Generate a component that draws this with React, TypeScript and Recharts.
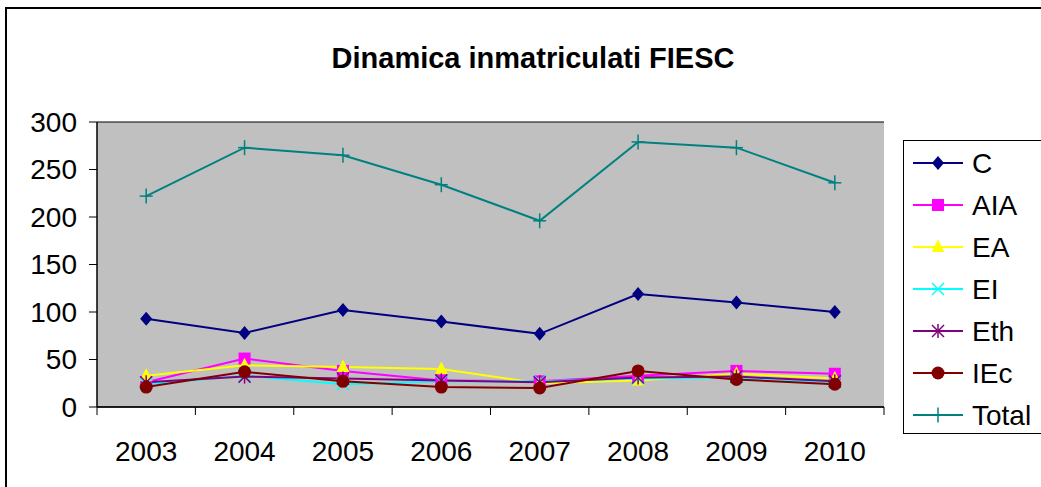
import React from 'react';
import { LineChart, Line, XAxis, YAxis, CartesianGrid } from 'recharts';

const years = ['2003', '2004', '2005', '2006', '2007', '2008', '2009', '2010'];
const C = [93, 78, 102, 90, 77, 119, 110, 100];
const AIA = [26, 51, 38, 28, 27, 33, 38, 35];
const EA = [33, 44, 42, 40, 25, 28, 35, 30];
const EI = [24, 33, 24, 27, 27, 30, 31, 26];
const Eth = [26, 32, 30, 28, 26, 31, 32, 27];
const IEc = [21, 37, 27, 21, 20, 38, 29, 24];
const Total = [222, 273, 265, 234, 196, 279, 273, 236];
const yTicks = [0, 50, 100, 150, 200, 250, 300];

const data = years.map((y, i) => ({
  year: y, C: C[i], AIA: AIA[i], EA: EA[i], EI: EI[i], Eth: Eth[i], IEc: IEc[i], Total: Total[i],
}));

const FONT = '"Liberation Sans", Arial, sans-serif';

type Shape = 'diamond' | 'square' | 'triangle' | 'x' | 'star' | 'circle' | 'plus';

const series: { key: string; color: string; shape: Shape; width: number }[] = [
  { key: 'C', color: '#000080', shape: 'diamond', width: 2 },
  { key: 'AIA', color: '#FF00FF', shape: 'square', width: 2 },
  { key: 'EA', color: '#FFFF00', shape: 'triangle', width: 2 },
  { key: 'EI', color: '#00FFFF', shape: 'x', width: 2 },
  { key: 'Eth', color: '#800080', shape: 'star', width: 2 },
  { key: 'IEc', color: '#800000', shape: 'circle', width: 2 },
  { key: 'Total', color: '#008080', shape: 'plus', width: 2 },
];

function Marker({ cx, cy, shape, color }: { cx: number; cy: number; shape: Shape; color: string }) {
  switch (shape) {
    case 'diamond':
      return <path d={`M${cx},${cy - 7} L${cx + 6},${cy} L${cx},${cy + 7} L${cx - 6},${cy} Z`} fill={color} />;
    case 'square':
      return <rect x={cx - 6} y={cy - 6} width={12} height={12} fill={color} />;
    case 'triangle':
      return <path d={`M${cx},${cy - 7.5} L${cx + 6.5},${cy + 5} L${cx - 6.5},${cy + 5} Z`} fill={color} />;
    case 'x':
      return (
        <g stroke={color} strokeWidth={1.5}>
          <line x1={cx - 6} y1={cy - 6} x2={cx + 6} y2={cy + 6} />
          <line x1={cx - 6} y1={cy + 6} x2={cx + 6} y2={cy - 6} />
        </g>
      );
    case 'star':
      return (
        <g stroke={color} strokeWidth={1.5}>
          <line x1={cx - 6} y1={cy - 6} x2={cx + 6} y2={cy + 6} />
          <line x1={cx - 6} y1={cy + 6} x2={cx + 6} y2={cy - 6} />
          <line x1={cx} y1={cy - 7} x2={cx} y2={cy + 7} />
        </g>
      );
    case 'circle':
      return <circle cx={cx} cy={cy} r={6.5} fill={color} />;
    case 'plus':
    default:
      return (
        <g stroke={color} strokeWidth={1.5}>
          <line x1={cx - 6.5} y1={cy} x2={cx + 6.5} y2={cy} />
          <line x1={cx} y1={cy - 7.5} x2={cx} y2={cy + 7.5} />
        </g>
      );
  }
}

const makeDot = (shape: Shape, color: string) => (props: any) => {
  const { cx, cy, index } = props;
  if (cx == null || cy == null) return <g key={`d-${index}`} />;
  return (
    <g key={`d-${shape}-${index}`}>
      <Marker cx={cx} cy={cy} shape={shape} color={color} />
    </g>
  );
};

const HALF_BAND = 787 / 16;

const XTick = (props: any) => {
  const { x, y, payload, index } = props;
  const axisY = y - 10;
  return (
    <g>
      <line x1={x - HALF_BAND} y1={axisY} x2={x - HALF_BAND} y2={axisY + 8} stroke="#000" strokeWidth={1} />
      {index === years.length - 1 && (
        <line x1={x + HALF_BAND} y1={axisY} x2={x + HALF_BAND} y2={axisY + 8} stroke="#000" strokeWidth={1} />
      )}
      <text x={x} y={axisY + 54} textAnchor="middle" fontSize={28} fontFamily={FONT} fill="#000">
        {payload.value}
      </text>
    </g>
  );
};

const LegendBox = () => (
  <svg width={140} height={294} style={{ display: 'block', fontFamily: FONT }}>
    <rect x={0.5} y={0.5} width={145} height={293} fill="#fff" stroke="#000" strokeWidth={1} />
    {series.map((s, i) => {
      const cy = 23 + i * 42;
      return (
        <g key={s.key}>
          <line x1={10} y1={cy} x2={60} y2={cy} stroke={s.color} strokeWidth={2} />
          <Marker cx={35} cy={cy} shape={s.shape} color={s.color} />
          <text x={69} y={cy + 10} fontSize={28} fill="#000" fontFamily={FONT}>{s.key}</text>
        </g>
      );
    })}
  </svg>
);

export default function App() {
  return (
    <div style={{ position: 'absolute', left: 0, top: 0, width: 1041, height: 487, background: '#fff', overflow: 'hidden' }}>
      <div style={{ position: 'absolute', left: 5, top: 7, width: 1060, height: 520, border: '2px solid #000', boxSizing: 'border-box' }} />
      <div style={{ position: 'absolute', left: 0, top: 42, width: 1066, textAlign: 'center', fontFamily: FONT, fontWeight: 'bold', fontSize: 29, color: '#000' }}>
        Dinamica inmatriculati FIESC
      </div>
      <div style={{ position: 'absolute', left: 0, top: 0 }}>
        <LineChart width={1041} height={487} data={data} margin={{ top: 122, right: 157, bottom: 20, left: 0 }}>
          <CartesianGrid vertical={false} fill="#C0C0C0" stroke="#000" strokeOpacity={1} />
          <XAxis
            dataKey="year"
            height={60}
            padding={{ left: HALF_BAND, right: HALF_BAND }}
            axisLine={{ stroke: '#000', strokeWidth: 1.5 }}
            tickLine={false}
            tickSize={8}
            tickMargin={2}
            tick={<XTick />}
            interval={0}
          />
          <YAxis
            yAxisId="left"
            width={97}
            domain={[0, 300]}
            ticks={yTicks}
            interval={0}
            axisLine={{ stroke: '#000', strokeWidth: 1.5 }}
            tickLine={{ stroke: '#000' }}
            tickSize={8}
            tickMargin={12}
            tick={{ fontSize: 28, fill: '#000', fontFamily: FONT }}
          />
          <YAxis yAxisId="right" orientation="right" width={0} domain={[0, 300]} tick={false} tickLine={false} axisLine={{ stroke: '#808080', strokeWidth: 1.5 }} />
          {series.map((s) => (
            <Line
              key={s.key}
              yAxisId="left"
              type="linear"
              dataKey={s.key}
              stroke={s.color}
              strokeWidth={s.width}
              dot={makeDot(s.shape, s.color)}
              activeDot={false}
              isAnimationActive={false}
            />
          ))}
        </LineChart>
      </div>
      <div style={{ position: 'absolute', left: 903, top: 140 }}>
        <LegendBox />
      </div>
    </div>
  );
}
